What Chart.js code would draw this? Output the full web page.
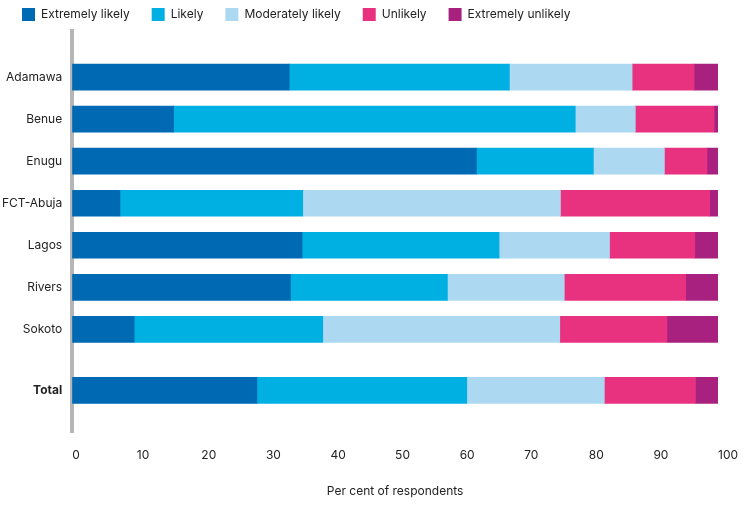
<!DOCTYPE html>
<html><head><meta charset="utf-8">
<script src="https://cdn.jsdelivr.net/npm/chart.js@4"></script>
<style>html,body{margin:0;padding:0;background:#fff}#w{width:750px;height:509px}</style>
</head><body><div id="w"><canvas id="c"></canvas></div>
<script>
const categories = ["Adamawa","Benue","Enugu","FCT-Abuja","Lagos","Rivers","Sokoto","Total"];
const rowPos = [0,1,2,3,4,5,6,7.45];
const extremelyLikely = [33.6,15.7,62.6,7.4,35.6,33.8,9.6,28.6];
const likely = [34.1,62.2,18.1,28.3,30.5,24.3,29.2,32.5];
const moderatelyLikely = [19.0,9.3,11.0,39.9,17.1,18.1,36.7,21.3];
const unlikely = [9.6,12.2,6.6,23.1,13.2,18.8,16.6,14.1];
const extremelyUnlikely = [3.7,0.6,1.7,1.3,3.6,5.0,7.9,3.5];
const series = [
 ["Extremely likely", extremelyLikely, "#0069b4"],
 ["Likely", likely, "#00b0e3"],
 ["Moderately likely", moderatelyLikely, "#acd9f1"],
 ["Unlikely", unlikely, "#e8327f"],
 ["Extremely unlikely", extremelyUnlikely, "#a8217f"]
];
const font = "'Inter', 'Noto Sans', sans-serif";
new Chart(document.getElementById('c'), {
 type:'bar',
 data:{datasets:series.map(s=>({label:s[0],backgroundColor:s[2],borderWidth:0,barThickness:26,
   data:s[1].map((v,i)=>({x:v,y:rowPos[i]}))}))},
 options:{indexAxis:'y',responsive:true,maintainAspectRatio:false,animation:false,
  layout:{padding:{left:0,right:32,top:-14,bottom:6}},
  plugins:{tooltip:{enabled:false},
   legend:{position:'top',align:'start',labels:{boxWidth:13,boxHeight:13,padding:22,color:'#222',font:{family:font,size:12}}}},
  scales:{
   x:{stacked:true,min:0,max:100,grid:{display:false},border:{display:false},
      ticks:{stepSize:10,align:'start',padding:8,color:'#222',font:{family:font,size:12}},
      title:{display:true,text:'Per cent of respondents',color:'#222',font:{family:font,size:12},padding:{top:14}}},
   y:{type:'linear',stacked:true,reverse:true,min:-0.5,max:7.85,grid:{display:false},
      border:{display:true,color:'#b5b5b5',width:4},
      afterBuildTicks:ax=>{ax.ticks=rowPos.map(v=>({value:v}));},
      ticks:{color:'#222',padding:2,callback:(v)=>{const i=rowPos.indexOf(v);return i>=0?categories[i]:'';},
        font:ctx=>({family:font,size:12,weight:(ctx.tick&&ctx.tick.value===7.45)?'bold':'normal'})}}
  }}
});
</script></body></html>
